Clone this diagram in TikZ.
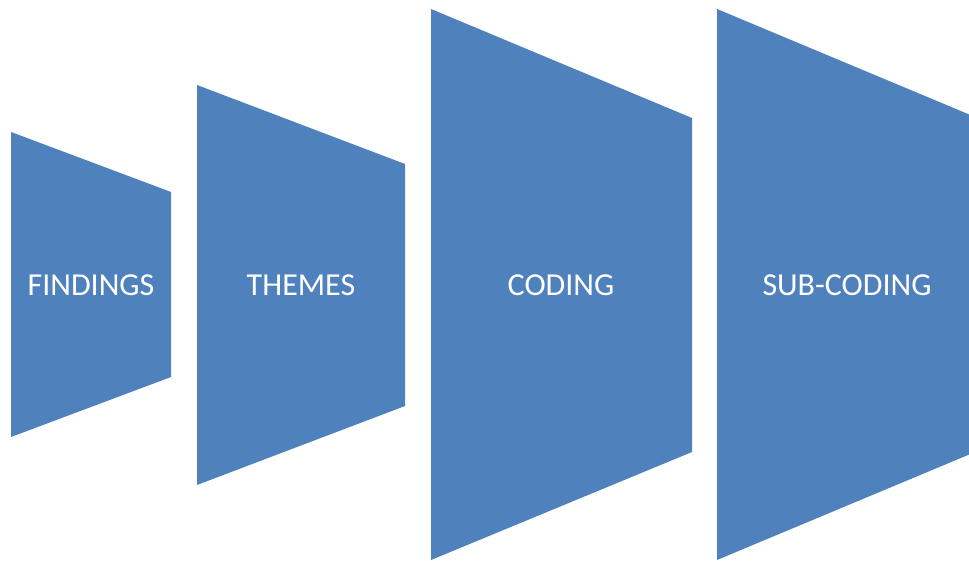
\documentclass[tikz,border=0pt]{standalone}
\usepackage{fontspec}
\setmainfont{Carlito}
\definecolor{officeblue}{HTML}{4F81BD}
\tikzset{
  funnel/.style={fill=officeblue, draw=none},
  lbl/.style={text=white, font=\fontsize{32}{38}\selectfont, inner sep=0pt, anchor=base}
}
\begin{document}
\begin{tikzpicture}[x=1pt,y=-1pt]
\useasboundingbox (0,0) rectangle (969,561);
\fill[funnel] (11,132) -- (171,192) -- (171,377) -- (11,437) -- cycle;
\fill[funnel] (197,85) -- (405,164) -- (405,406) -- (197,485) -- cycle;
\fill[funnel] (431,9) -- (692,118) -- (692,452) -- (431,560) -- cycle;
\begin{scope}
\clip (0,0) rectangle (969,561);
\fill[funnel] (717,9) -- (980,119) -- (980,450) -- (717,560) -- cycle;
\end{scope}
\node[lbl] (findings) at (91,295) {FINDINGS};
\node[lbl] (themes) at (301,295) {THEMES};
\node[lbl] (coding) at (561,295) {CODING};
\node[lbl] (subcoding) at (847,295) {SUB-CODING};
\end{tikzpicture}
\end{document}
